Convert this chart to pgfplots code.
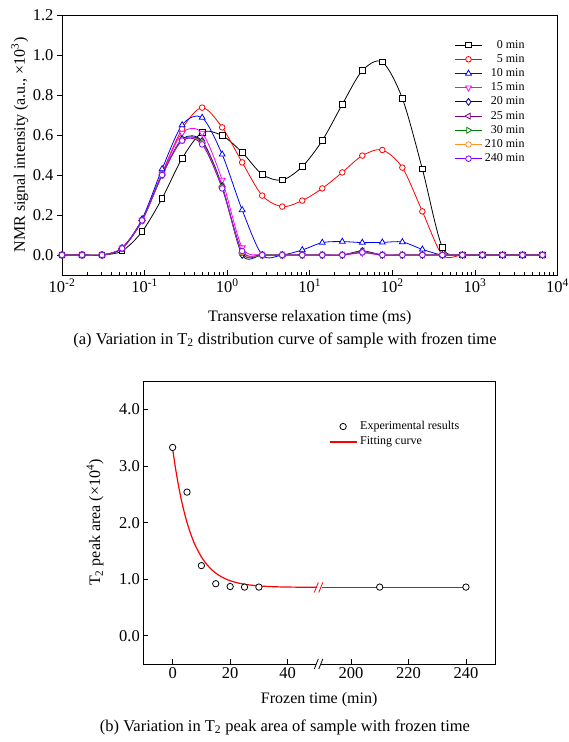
\documentclass[border=0pt]{standalone}
\usepackage{fontspec}
\setmainfont{Liberation Serif}
\usepackage{pgfplots}
\usepackage{pgfplotstable}
\pgfplotsset{compat=1.18}
\definecolor{c0}{RGB}{0,0,0}
\definecolor{c5}{RGB}{255,0,0}
\definecolor{c10}{RGB}{0,0,255}
\definecolor{c15}{RGB}{255,0,255}
\definecolor{c20}{RGB}{0,0,128}
\definecolor{c25}{RGB}{128,0,128}
\definecolor{c30}{RGB}{0,128,0}
\definecolor{c210}{RGB}{255,145,40}
\definecolor{c240}{RGB}{128,0,255}
\definecolor{fitred}{RGB}{255,0,0}

\pgfplotstableread{
x s0 s5 s10 s15 s20 s25 s30 s210 s240
0.01     0     0     0     0     0     0     0     0     0
0.017475 0     0     0     0     0     0     0     0     0
0.030539 0     0     0     0     0     0     0     0     0
0.053367 0.020 0.035 0.035 0.035 0.033 0.033 0.033 0.033 0.033
0.093260 0.117 0.175 0.180 0.175 0.172 0.172 0.172 0.172 0.173
0.16298  0.283 0.410 0.430 0.405 0.400 0.400 0.400 0.400 0.400
0.28480  0.483 0.630 0.650 0.610 0.580 0.575 0.575 0.573 0.572
0.49770  0.613 0.737 0.687 0.610 0.570 0.565 0.560 0.557 0.553
0.86975  0.597 0.638 0.503 0.375 0.345 0.340 0.340 0.335 0.333
1.5199   0.513 0.463 0.225 0.037 0.000 0.010 0.010 0.015 0.020
2.6561   0.403 0.297 0     0     0     0     0     0     0
4.6416   0.375 0.242 0     0     0     0     0     0     0
8.1113   0.442 0.272 0.025 0     0     0     0     0     0
14.175   0.572 0.333 0.062 0     0     0     0     0     0
24.771   0.753 0.413 0.067 0     0     0     0     0     0
43.288   0.922 0.497 0.062 0.010 0.020 0.020 0.015 0.013 0.013
75.646   0.965 0.525 0.063 0     0     0     0     0     0
132.19   0.783 0.437 0.065 0     0     0     0     0     0
231.01   0.430 0.218 0.028 0     0     0     0     0     0
403.70   0.038 0     0     0     0     0     0     0     0
705.48   0     0     0     0     0     0     0     0     0
1232.8   0     0     0     0     0     0     0     0     0
2154.4   0     0     0     0     0     0     0     0     0
3764.9   0     0     0     0     0     0     0     0     0
6579.3   0     0     0     0     0     0     0     0     0
}\datatop

% frozen time: x = plotted position (200..240 shifted by -138 past the break)
\pgfplotstableread{
x y
0   3.33
5   2.54
10  1.24
15  0.92
20  0.87
25  0.86
30  0.86
72  0.86
102 0.86
}\dataexp

\pgfplotstableread{
x y
0  3.305
1  2.961
2  2.665
3  2.410
4  2.192
5  2.004
6  1.842
7  1.703
8  1.584
10 1.394
12 1.253
14 1.149
16 1.072
18 1.015
20 0.973
23 0.930
26 0.903
30 0.881
35 0.867
40 0.861
45 0.858
50.2 0.856
}\datafitA

\pgfplotstableread{
x y
52 0.855
72 0.855
102 0.855
}\datafitB

\newcommand{\fs}[1]{\fontsize{#1}{#1}\selectfont}

\begin{document}
\begin{tikzpicture}
\path[use as bounding box] (0,0) rectangle (569bp,742bp);

\begin{axis}[
  at={(62bp,467bp)}, anchor=south west,
  scale only axis, width=495.5bp, height=260bp,
  xmode=log, xmin=1e-2, xmax=1e4, ymin=-0.1, ymax=1.2,
  xtick={1e-2,1e-1,1,10,100,1000,10000},
  xticklabels={10\textsuperscript{-2},10\textsuperscript{-1},10\textsuperscript{0},10\textsuperscript{1},10\textsuperscript{2},10\textsuperscript{3},10\textsuperscript{4}},
  ytick={0,0.2,0.4,0.6,0.8,1.0,1.2},
  yticklabel style={/pgf/number format/.cd, fixed, fixed zerofill, precision=1},
  /pgf/number format/assume math mode=true,
  tick pos=left, xtick align=inside, ytick align=outside,
  major tick length=5bp, minor tick length=3bp,
  every tick/.style={black, line width=0.7bp},
  axis line style={line width=0.9bp},
  tick label style={font=\fs{16.5bp}},
  xlabel={Transverse relaxation time (ms)},
  ylabel={NMR signal intensity (a.u., ×10\textsuperscript{3})},
  label style={font=\fs{16bp}},
  x label style={at={(axis description cs:0.5,-0.165)}, anchor=center},
  y label style={at={(axis description cs:-0.085,0.5)}, anchor=center},
  every axis plot/.append style={smooth, line width=0.8bp, mark size=2.8bp},
  legend cell align=right,
  legend image code/.code={\draw[mark repeat=2,mark phase=2,#1] plot coordinates {(0bp,0bp) (13.5bp,0bp) (27bp,0bp)};},
  legend style={at={(rel axis cs:0.945,0.92)}, anchor=north east, draw=none, fill=none,
    font=\fs{12bp}, row sep=0pt,
    nodes={inner ysep=1.6bp, inner xsep=2.5bp, text height=8.5bp, text depth=2.5bp}},
]
\addplot[c0, mark=square*, mark options={solid, fill=white}] table[x=x,y=s0] {\datatop}; \addlegendentry{0 min}
\addplot[c5, mark=*, mark options={solid, fill=white}] table[x=x,y=s5] {\datatop}; \addlegendentry{5 min}
\addplot[c10, mark=triangle*, mark size=3.4bp, mark options={solid, fill=white}] table[x=x,y=s10] {\datatop}; \addlegendentry{10 min}
\addplot[c15, mark=triangle*, mark size=3.4bp, mark options={solid, fill=white, rotate=180}] table[x=x,y=s15] {\datatop}; \addlegendentry{15 min}
\addplot[c20, mark=diamond*, mark size=3.4bp, mark options={solid, fill=white}] table[x=x,y=s20] {\datatop}; \addlegendentry{20 min}
\addplot[c25, mark=triangle*, mark size=3.4bp, mark options={solid, fill=white, rotate=90}] table[x=x,y=s25] {\datatop}; \addlegendentry{25 min}
\addplot[c30, mark=triangle*, mark size=3.4bp, mark options={solid, fill=white, rotate=-90}] table[x=x,y=s30] {\datatop}; \addlegendentry{30 min}
\addplot[c210, mark=*, mark options={solid, fill=white}] table[x=x,y=s210] {\datatop}; \addlegendentry{210 min}
\addplot[c240, mark=*, mark options={solid, fill=white}] table[x=x,y=s240] {\datatop}; \addlegendentry{240 min}
\end{axis}

\node[font=\fs{16.5bp}] at (285bp,402bp) {(a) Variation in T\textsubscript{2} distribution curve of sample with frozen time};

\begin{axis}[
  at={(143.3bp,78bp)}, anchor=south west,
  scale only axis, width=351.7bp, height=282.7bp,
  xmin=-10.2, xmax=112.1, ymin=-0.5, ymax=4.5,
  xtick={0,20,40,62,82,102}, xticklabels={0,20,40,200,220,240},
  ytick={0,1,2,3,4},
  yticklabel style={/pgf/number format/.cd, fixed, fixed zerofill, precision=1},
  /pgf/number format/assume math mode=true,
  tick pos=left, tick align=inside,
  major tick length=5bp,
  every tick/.style={black, line width=0.7bp},
  axis line style={line width=0.9bp},
  tick label style={font=\fs{16.5bp}},
  xlabel={Frozen time (min)},
  ylabel={T\textsubscript{2} peak area (×10\textsuperscript{4})},
  label style={font=\fs{16bp}},
  x label style={at={(axis description cs:0.5,-0.127)}, anchor=center},
  y label style={at={(axis description cs:-0.137,0.5)}, anchor=center},
  clip=false,
  legend cell align=left,
  legend image code/.code={\draw[mark repeat=2,mark phase=2,#1] plot coordinates {(0bp,0bp) (13.5bp,0bp) (27bp,0bp)};},
  legend style={at={(rel axis cs:0.519,0.875)}, anchor=north west, draw=none, fill=none,
    font=\fs{12bp}, row sep=0pt,
    nodes={inner ysep=1.7bp, inner xsep=3bp, text height=8.8bp, text depth=3.2bp}},
]
\addlegendimage{black, only marks, mark=*, mark size=3.2bp, mark options={fill=white, draw=black, line width=0.8bp}}
\addlegendentry{Experimental results}
\addlegendimage{draw=fitred, line width=1.2bp, sharp plot, no marks}
\addlegendentry{Fitting curve}
\addplot[draw=fitred, line width=1.2bp, smooth, no marks, forget plot] table {\datafitA};
\addplot[draw=fitred, line width=1.2bp, smooth, no marks, forget plot] table {\datafitB};
\addplot[draw=none, only marks, mark=*, mark size=3.2bp, mark options={fill=white, draw=black, line width=0.8bp}, forget plot] table {\dataexp};
% axis break marks
\fill[white] (axis cs:50.3,-0.5) ++(-1bp,-1.5bp) rectangle ++(5bp,3bp);
\draw[black, line width=0.8bp] (axis cs:50.3,-0.5) ++(-3bp,-5bp) -- ++(4bp,10bp);
\draw[black, line width=0.8bp] (axis cs:50.3,-0.5) ++(1.5bp,-5bp) -- ++(4bp,10bp);
\draw[fitred, line width=0.8bp] (axis cs:50.3,0.855) ++(-3bp,-5bp) -- ++(4bp,10bp);
\draw[fitred, line width=0.8bp] (axis cs:50.3,0.855) ++(1.5bp,-5bp) -- ++(4bp,10bp);
\end{axis}

\node[font=\fs{16.5bp}] at (285bp,15bp) {(b) Variation in T\textsubscript{2} peak area of sample with frozen time};
\end{tikzpicture}
\end{document}
